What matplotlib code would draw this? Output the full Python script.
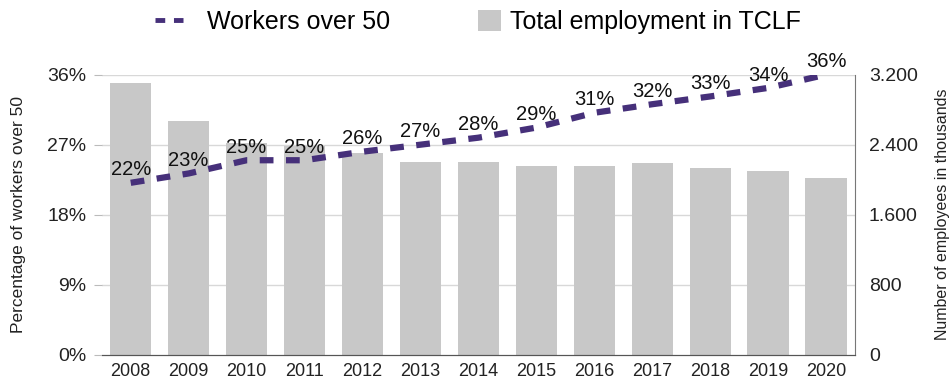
import matplotlib
matplotlib.use("Agg")
import matplotlib.pyplot as plt
from matplotlib.lines import Line2D
from matplotlib.patches import Patch

plt.rcParams['font.family'] = ['Liberation Sans', 'DejaVu Sans']

years = ['2008', '2009', '2010', '2011', '2012', '2013', '2014', '2015', '2016', '2017', '2018', '2019', '2020']
workers_over_50 = [22.1, 23.3, 25.0, 25.0, 26.1, 27.0, 27.9, 29.2, 31.1, 32.2, 33.2, 34.3, 36.0]
pct_labels = ['22%', '23%', '25%', '25%', '26%', '27%', '28%', '29%', '31%', '32%', '33%', '34%', '36%']
total_employment = [3100, 2675, 2420, 2390, 2300, 2205, 2205, 2160, 2160, 2185, 2135, 2100, 2025]
left_ticks = [0, 9, 18, 27, 36]
right_ticks = [0, 800, 1600, 2400, 3200]
right_tick_labels = ['0', '800', '1.600', '2.400', '3.200']

purple = '#46307a'
grey = '#c8c8c8'
txt = '#222222'

fig = plt.figure(figsize=(9.51, 3.81), dpi=100)
ax = fig.add_axes([0.107, 0.069, 0.792, 0.735])
ax2 = ax.twinx()

x = list(range(len(years)))

ax2.bar(x, total_employment, width=0.71, color=grey, zorder=1)
ax2.set_ylim(0, 3200)
ax2.set_yticks(right_ticks)
ax2.set_yticklabels(right_tick_labels, fontsize=14, color=txt)
ax2.tick_params(axis='y', length=0, pad=10)
ax2.set_ylabel('Number of employees in thousands', fontsize=11.5, color=txt)
ax2.yaxis.set_label_coords(1.106, 0.5)

ax.set_zorder(ax2.get_zorder() + 1)
ax.patch.set_visible(False)

ax.set_ylim(0, 36)
ax.set_xlim(-0.5, len(years) - 0.5)
ax.set_yticks(left_ticks)
ax.set_yticklabels([f'{t}%' for t in left_ticks], fontsize=14, color=txt)
ax.tick_params(axis='y', length=6, color='#bbbbbb', pad=5)
ax.set_xticks(x)
ax.set_xticklabels(years, fontsize=13, color=txt)
ax.tick_params(axis='x', length=0, pad=6)
ax.set_ylabel('Percentage of workers over 50', fontsize=12.5, color=txt)
ax.yaxis.set_label_coords(-0.1, 0.5)

for t in left_ticks[1:]:
    ax2.axhline(t / 36 * 3200, color='#d8d8d8', lw=1, zorder=0)

ax.plot(x, workers_over_50, color=purple, lw=4.5, dashes=(2.2, 2.0), zorder=3)
for xi, v, lab in zip(x, workers_over_50, pct_labels):
    ax.text(xi, v + 1.65, lab, ha='center', va='center', fontsize=14.5, color='#111111', zorder=4)

for a in (ax, ax2):
    a.spines['top'].set_visible(False)
    a.spines['left'].set_visible(False)
    a.spines['right'].set_visible(False)
    a.spines['bottom'].set_color('#555555')
ax2.spines['right'].set_visible(True)
ax2.spines['right'].set_color('#777777')

leg1 = fig.legend([Line2D([0], [0], color=purple, lw=3.5, dashes=(2.0, 1.8))], ['Workers over 50'],
                  loc='center left', bbox_to_anchor=(145 / 951, 1 - 22 / 381), frameon=False,
                  fontsize=18, handlelength=1.13, handletextpad=0.95, borderaxespad=0)
leg2 = fig.legend([Patch(facecolor=grey, edgecolor='none')], ['Total employment in TCLF'],
                  loc='center left', bbox_to_anchor=(468 / 951, 1 - 22 / 381), frameon=False,
                  fontsize=18, handlelength=0.9, handleheight=0.9, handletextpad=0.4, borderaxespad=0)

fig.savefig('out.png', dpi=100)
